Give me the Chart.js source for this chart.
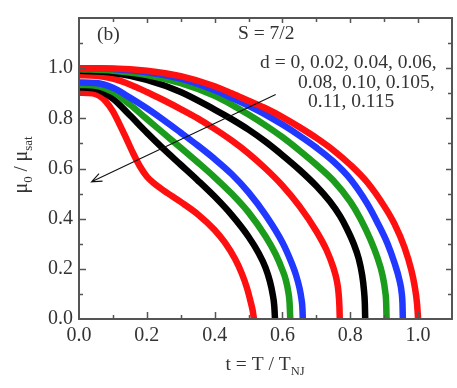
<!DOCTYPE html>
<html><head><meta charset="utf-8">
<script src="https://cdn.jsdelivr.net/npm/chart.js@4/dist/chart.umd.min.js"></script>
<style>html,body{margin:0;padding:0;background:#fff}#wrap{width:457px;height:388px;position:relative}</style>
</head><body><div id="wrap"><canvas id="c" width="457" height="388"></canvas></div>
<script>
// d values (series), colours per series
const dValues = [0, 0.02, 0.04, 0.06, 0.08, 0.10, 0.105, 0.11, 0.115];
const seriesColors = ['#ff1010','#2038ff','#1c9c1c','#000000','#ff1010','#2038ff','#1c9c1c','#000000','#ff1010'];

// t = T / T_NJ values and mu0/mu_sat for each d
const t_d0    = [0, 0.1, 0.2, 0.3, 0.4, 0.45, 0.5, 0.55, 0.6, 0.65, 0.7, 0.75, 0.8, 0.85, 0.9, 0.93, 0.96, 0.98, 0.99, 0.997, 1.0];
const m_d0    = [1.0, 0.999, 0.99, 0.968, 0.928, 0.9, 0.87, 0.84, 0.805, 0.765, 0.722, 0.673, 0.615, 0.545, 0.45, 0.38, 0.285, 0.195, 0.13, 0.06, 0];
const t_d002  = [0, 0.1, 0.2, 0.3, 0.4, 0.45, 0.5, 0.55, 0.6, 0.65, 0.7, 0.75, 0.8, 0.85, 0.88, 0.91, 0.93, 0.945, 0.952, 0.954, 0.955];
const m_d002  = [1.0, 0.997, 0.984, 0.958, 0.912, 0.882, 0.85, 0.815, 0.775, 0.731, 0.683, 0.628, 0.558, 0.46, 0.385, 0.3, 0.225, 0.155, 0.1, 0.06, 0];
const t_d004  = [0, 0.1, 0.2, 0.3, 0.4, 0.45, 0.5, 0.55, 0.6, 0.65, 0.7, 0.75, 0.8, 0.83, 0.86, 0.88, 0.895, 0.903, 0.906, 0.907];
const m_d004  = [0.996, 0.99, 0.973, 0.94, 0.89, 0.855, 0.815, 0.772, 0.725, 0.672, 0.615, 0.552, 0.468, 0.4, 0.315, 0.245, 0.175, 0.11, 0.06, 0];
const t_d006  = [0, 0.1, 0.2, 0.3, 0.4, 0.45, 0.5, 0.55, 0.6, 0.65, 0.7, 0.74, 0.77, 0.79, 0.81, 0.825, 0.835, 0.84, 0.843, 0.844];
const m_d006  = [0.99, 0.982, 0.953, 0.905, 0.835, 0.797, 0.755, 0.707, 0.653, 0.595, 0.53, 0.468, 0.41, 0.36, 0.3, 0.24, 0.175, 0.12, 0.06, 0];
const t_d008  = [0, 0.05, 0.1, 0.15, 0.2, 0.25, 0.3, 0.35, 0.4, 0.45, 0.5, 0.55, 0.6, 0.65, 0.7, 0.73, 0.75, 0.76, 0.765, 0.768, 0.769];
const m_d008  = [0.972, 0.97, 0.958, 0.935, 0.905, 0.872, 0.837, 0.8, 0.758, 0.712, 0.66, 0.6, 0.532, 0.45, 0.35, 0.275, 0.205, 0.155, 0.11, 0.05, 0];
const t_d010  = [0, 0.05, 0.1, 0.15, 0.2, 0.25, 0.3, 0.35, 0.4, 0.45, 0.5, 0.55, 0.6, 0.625, 0.64, 0.65, 0.656, 0.659, 0.66];
const m_d010  = [0.943, 0.941, 0.922, 0.883, 0.84, 0.793, 0.743, 0.692, 0.638, 0.578, 0.505, 0.415, 0.305, 0.23, 0.175, 0.125, 0.08, 0.04, 0];
const t_d0105 = [0, 0.05, 0.1, 0.15, 0.2, 0.25, 0.3, 0.35, 0.4, 0.45, 0.5, 0.55, 0.58, 0.6, 0.61, 0.617, 0.621, 0.623];
const m_d0105 = [0.933, 0.93, 0.905, 0.855, 0.797, 0.74, 0.683, 0.625, 0.565, 0.5, 0.425, 0.33, 0.258, 0.195, 0.155, 0.11, 0.065, 0];
const t_d011  = [0, 0.05, 0.1, 0.15, 0.2, 0.25, 0.3, 0.35, 0.4, 0.45, 0.5, 0.53, 0.55, 0.563, 0.571, 0.576, 0.578];
const m_d011  = [0.923, 0.918, 0.878, 0.812, 0.743, 0.677, 0.615, 0.553, 0.488, 0.415, 0.328, 0.262, 0.205, 0.15, 0.1, 0.05, 0];
const t_d0115 = [0, 0.04, 0.06, 0.08, 0.1, 0.12, 0.14, 0.16, 0.18, 0.2, 0.22, 0.25, 0.3, 0.35, 0.4, 0.43, 0.46, 0.48, 0.495, 0.505, 0.512, 0.516];
const m_d0115 = [0.902, 0.9, 0.89, 0.866, 0.828, 0.775, 0.718, 0.66, 0.608, 0.568, 0.542, 0.512, 0.467, 0.418, 0.355, 0.305, 0.24, 0.182, 0.125, 0.075, 0.035, 0];

const seriesT = [t_d0, t_d002, t_d004, t_d006, t_d008, t_d010, t_d0105, t_d011, t_d0115];
const seriesM = [m_d0, m_d002, m_d004, m_d006, m_d008, m_d010, m_d0105, m_d011, m_d0115];

// tick labels
const xTicks = [0, 0.2, 0.4, 0.6, 0.8, 1.0];
const yTicks = [0, 0.2, 0.4, 0.6, 0.8, 1.0];
const xMinor = [0.1, 0.2, 0.3, 0.4, 0.5, 0.6, 0.7, 0.8, 0.9, 1.0];
const yMinor = [0.1, 0.2, 0.3, 0.4, 0.5, 0.6, 0.7, 0.8, 0.9, 1.0, 1.1];

// arrow annotation (data coordinates: from -> to)
const arrowFrom = [0.58, 0.895];
const arrowTo = [0.037, 0.547];

const SERIF = '"Liberation Serif", "DejaVu Serif", serif';
const TXT = '#333';

const datasets = seriesT.map((ts, k) => ({
  label: 'd = ' + dValues[k],
  data: ts.map((t, i) => ({x: t, y: seriesM[k][i]})),
  showLine: true,
  borderColor: seriesColors[k],
  backgroundColor: seriesColors[k],
  borderWidth: 6.5,
  cubicInterpolationMode: 'monotone',
  pointRadius: ctx => ctx.dataIndex === ts.length - 1 ? 3 : 0,
  pointBorderWidth: 0
}));

const decorPlugin = {
  id: 'decor',
  afterDraw(chart) {
    const {ctx, chartArea: a, scales: {x, y}} = chart;
    ctx.save();
    // frame
    ctx.strokeStyle = '#555';
    ctx.lineWidth = 2;
    ctx.strokeRect(a.left, a.top, a.right - a.left, a.bottom - a.top);
    ctx.lineWidth = 1.5;
    ctx.beginPath();
    xMinor.forEach((v, i) => {
      const px = Math.round(x.getPixelForValue(v)) + 0.5;
      const major = (i % 2) === 1;
      const L = major ? 7 : 4;
      ctx.moveTo(px, a.bottom); ctx.lineTo(px, a.bottom - L);
      ctx.moveTo(px, a.top); ctx.lineTo(px, a.top + (major ? 5 : 4));
    });
    yMinor.forEach((v, i) => {
      const py = Math.round(y.getPixelForValue(v)) + 0.5;
      const major = (i % 2) === 1;
      const L = major ? 7 : 4;
      ctx.moveTo(a.left, py); ctx.lineTo(a.left + L, py);
      ctx.moveTo(a.right, py); ctx.lineTo(a.right - (major ? 6 : 4), py);
    });
    ctx.stroke();

    // arrow
    const x1 = x.getPixelForValue(arrowFrom[0]), y1 = y.getPixelForValue(arrowFrom[1]);
    const x2 = x.getPixelForValue(arrowTo[0]), y2 = y.getPixelForValue(arrowTo[1]);
    ctx.strokeStyle = '#111';
    ctx.lineWidth = 1.1;
    ctx.beginPath();
    ctx.moveTo(x1, y1); ctx.lineTo(x2, y2);
    const ang = Math.atan2(y1 - y2, x1 - x2);
    const hl = 11, ha = 0.38;
    ctx.moveTo(x2 + hl * Math.cos(ang + ha), y2 + hl * Math.sin(ang + ha));
    ctx.lineTo(x2, y2);
    ctx.lineTo(x2 + hl * Math.cos(ang - ha), y2 + hl * Math.sin(ang - ha));
    ctx.stroke();

    // texts
    ctx.fillStyle = TXT;
    ctx.textBaseline = 'alphabetic';
    ctx.textAlign = 'left';
    ctx.font = '19.5px ' + SERIF;
    ctx.fillText('(b)', 97, 40);
    ctx.fillText('S = 7/2', 238, 39);
    ctx.fillText('d = 0, 0.02, 0.04, 0.06,', 260, 68);
    ctx.fillText('0.08, 0.10, 0.105,', 298, 88);
    ctx.fillText('0.11, 0.115', 308, 107);

    // x title with subscript
    const drawParts = (parts, cx, cy) => {
      let w = 0;
      parts.forEach(p => { ctx.font = p.f + 'px ' + SERIF; p.w = ctx.measureText(p.t).width; w += p.w; });
      let xx = cx - w / 2;
      parts.forEach(p => { ctx.font = p.f + 'px ' + SERIF; ctx.fillText(p.t, xx, cy + (p.dy || 0)); xx += p.w; });
    };
    drawParts([{t: 't = T / T', f: 19.5}, {t: 'NJ', f: 12.5, dy: 5}], 265, 370);

    // y title rotated
    ctx.save();
    ctx.translate(27, 165);
    ctx.rotate(-Math.PI / 2);
    drawParts([{t: 'μ', f: 20}, {t: '0', f: 13, dy: 5}, {t: ' / ', f: 19}, {t: 'μ', f: 20}, {t: 'sat', f: 13, dy: 5}], 0, 0);
    ctx.restore();
    ctx.restore();
  }
};

new Chart(document.getElementById('c'), {
  type: 'scatter',
  data: {datasets},
  options: {
    responsive: false,
    animation: false,
    layout: {padding: {top: 12, right: 5, left: 0, bottom: 0}},
    plugins: {legend: {display: false}, tooltip: {enabled: false}},
    scales: {
      x: {
        type: 'linear', min: 0, max: 1.1,
        afterBuildTicks: s => { s.ticks = xTicks.map(v => ({value: v})); },
        afterFit: s => { s.height = 69; },
        grid: {display: false, drawTicks: false},
        border: {display: false},
        ticks: {font: {family: SERIF, size: 20}, color: TXT, padding: 5, maxRotation: 0,
                callback: v => Number(v).toFixed(1)}
      },
      y: {
        type: 'linear', min: 0, max: 1.2,
        afterBuildTicks: s => { s.ticks = yTicks.map(v => ({value: v})); },
        afterFit: s => { s.width = 79; },
        grid: {display: false, drawTicks: false},
        border: {display: false},
        ticks: {font: {family: SERIF, size: 20}, color: TXT, padding: 6,
                callback: v => Number(v).toFixed(1)}
      }
    }
  },
  plugins: [decorPlugin]
});
</script></body></html>
